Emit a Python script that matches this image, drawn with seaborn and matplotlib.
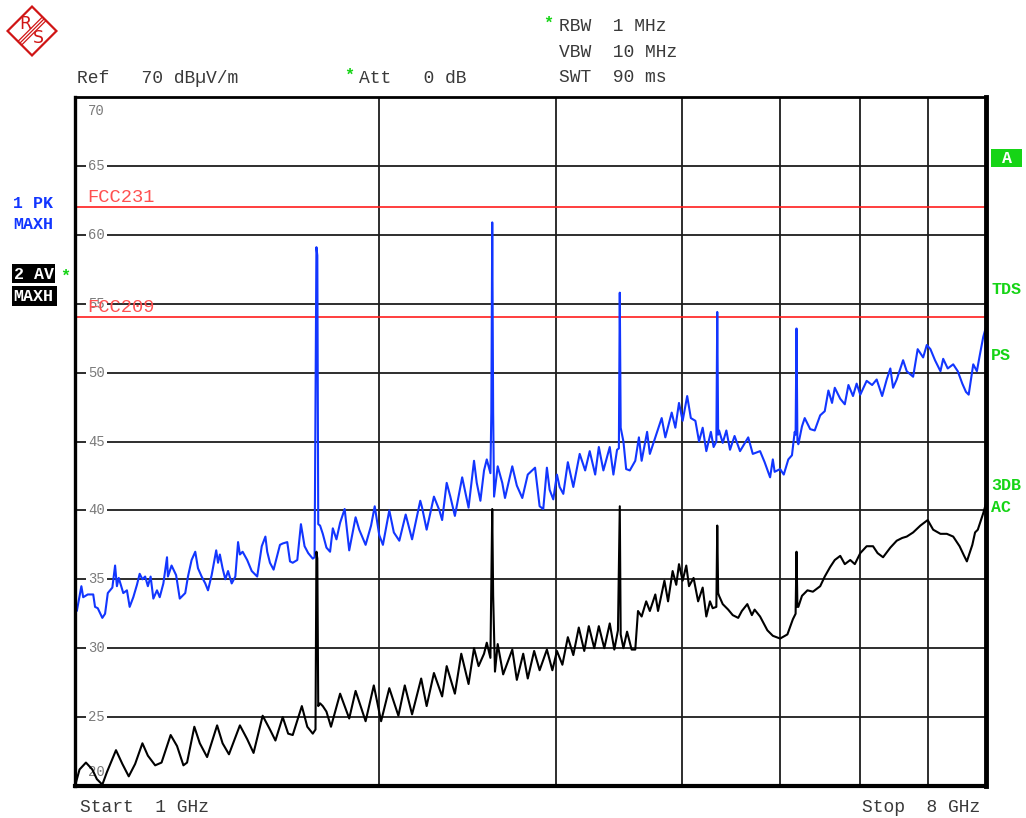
import numpy as np
import pandas as pd
import matplotlib
matplotlib.use("Agg")
import matplotlib.pyplot as plt
import seaborn as sns
from matplotlib.patches import Polygon, Rectangle
from matplotlib.ticker import NullLocator

# Sweep settings
F_START_GHZ = 1.0
F_STOP_GHZ = 8.0
SWEEP_POINTS = 1001
REF_LEVEL = 70
BOTTOM_LEVEL = 20

# Trace 1: peak detector, max hold (sweep point index, level in dBuV/m)
pk_point = [0, 1, 2, 7, 9, 14, 20, 22, 25, 30, 33, 36, 41, 44, 46, 48, 53, 57, 60, 64,
            68, 71, 74, 77, 80, 83, 86, 90, 93, 97, 101, 102, 106, 111, 115, 121, 124, 128,
            132, 135, 139, 143, 146, 150, 155, 157, 159, 162, 165, 168, 172, 176, 179, 181,
            184, 189, 194, 200, 205, 209, 211, 214, 218, 225, 228, 233, 236, 239, 244, 248,
            252, 256, 261, 263, 264, 265, 266, 267, 269, 272, 276, 280, 283, 287, 291, 296,
            301, 308, 312, 319, 325, 329, 334, 338, 345, 350, 356, 363, 370, 379, 381, 386,
            394, 400, 403, 408, 412, 417, 425, 432, 438, 441, 445, 449, 452, 456, 457, 458,
            459, 460, 464, 469, 472, 480, 485, 491, 497, 505, 510, 514, 518, 521, 525, 529,
            532, 536, 541, 547, 554, 560, 565, 571, 575, 580, 587, 591, 595, 597, 598, 599,
            602, 605, 609, 615, 619, 622, 628, 631, 637, 644, 648, 655, 659, 663, 667, 672,
            676, 681, 685, 689, 693, 698, 701, 704, 705, 706, 707, 711, 715, 719, 724, 730,
            739, 744, 752, 757, 763, 766, 768, 774, 778, 783, 787, 790, 791, 792, 793, 794,
            798, 801, 807, 812, 818, 823, 827, 831, 834, 840, 845, 849, 854, 858, 862, 869,
            875, 880, 886, 891, 895, 898, 902, 909, 913, 920, 925, 931, 935, 939, 944, 950,
            953, 958, 964, 969, 974, 978, 981, 986, 990, 993, 997, 1000]
pk_level = [33.4, 33.1, 32.7, 34.5, 33.7, 33.9, 33.9, 33.0, 32.9, 32.2, 32.5, 34.0, 34.4, 36.0,
            34.5, 35.1, 34.0, 34.2, 33.0, 33.7, 34.6, 35.4, 35.0, 35.2, 34.5, 35.2, 33.6, 34.2,
            33.7, 34.7, 36.6, 35.2, 36.0, 35.3, 33.6, 34.0, 35.2, 36.4, 37.0, 35.8, 35.2, 34.7,
            34.2, 35.3, 37.1, 36.2, 36.8, 35.8, 35.0, 35.6, 34.7, 35.2, 37.7, 36.8, 37.0, 36.4,
            35.6, 35.2, 37.4, 38.1, 37.0, 36.2, 35.7, 37.5, 37.6, 37.7, 36.3, 36.2, 36.4, 39.0,
            37.4, 36.9, 36.5, 36.6, 48.0, 59.1, 58.5, 39.0, 38.9, 38.3, 37.3, 37.0, 38.7, 37.9,
            39.1, 40.1, 37.1, 39.5, 38.6, 37.5, 38.9, 40.3, 38.2, 37.5, 40.0, 38.4, 37.8, 39.7,
            37.9, 40.7, 40.2, 38.6, 41.0, 40.0, 39.3, 42.0, 41.0, 39.6, 42.4, 40.2, 43.6, 42.0,
            40.7, 42.9, 43.7, 42.7, 47.1, 60.9, 47.1, 41.0, 43.2, 42.0, 40.9, 43.2, 41.8, 40.9,
            42.6, 43.1, 40.3, 40.1, 43.1, 41.5, 40.8, 42.6, 41.7, 41.2, 43.5, 41.7, 44.1, 42.9,
            44.3, 42.6, 44.6, 42.9, 44.6, 42.6, 44.4, 44.5, 55.8, 46.0, 45.0, 43.0, 42.9, 43.6,
            45.3, 43.6, 45.7, 44.1, 45.3, 46.7, 45.3, 47.1, 46.0, 47.8, 46.5, 48.3, 46.7, 46.5,
            45.0, 46.0, 44.3, 45.7, 44.6, 45.0, 54.4, 45.5, 45.8, 44.9, 45.8, 44.4, 45.4, 44.3,
            45.3, 44.1, 44.3, 43.5, 42.4, 43.7, 42.8, 43.0, 42.6, 43.7, 44.0, 45.7, 45.5, 53.2,
            45.0, 44.8, 46.1, 46.7, 45.9, 45.8, 46.9, 47.2, 48.7, 47.8, 48.9, 48.1, 47.7, 49.1,
            48.3, 49.2, 48.4, 49.4, 49.1, 49.5, 48.3, 49.5, 50.3, 48.9, 49.5, 50.9, 50.1, 49.7,
            51.7, 51.1, 52.0, 51.7, 50.9, 50.1, 51.0, 50.3, 50.6, 50.1, 49.2, 48.6, 48.4, 50.6,
            50.1, 51.2, 52.6, 53.3]

# Trace 2: average detector, max hold
av_point = [0, 5, 12, 19, 24, 30, 35, 45, 52, 59, 66, 74, 80, 88, 95, 105, 112, 119, 123, 131,
            137, 145, 156, 162, 169, 181, 189, 196, 206, 214, 220, 228, 234, 239, 249, 255, 261,
            264, 265, 266, 267, 269, 272, 276, 281, 291, 301, 308, 319, 328, 336, 345, 355, 362,
            370, 380, 386, 394, 403, 408, 417, 424, 432, 438, 443, 449, 452, 456, 458, 459, 461,
            464, 470, 480, 485, 492, 497, 504, 510, 518, 524, 529, 535, 541, 547, 553, 559, 564,
            570, 575, 581, 587, 592, 596, 598, 599, 602, 606, 611, 615, 618, 622, 627, 631, 637,
            640, 647, 651, 656, 660, 663, 667, 671, 674, 679, 684, 689, 693, 697, 700, 704, 705,
            706, 707, 711, 717, 722, 728, 732, 738, 743, 746, 752, 760, 766, 774, 782, 788, 791,
            792, 793, 794, 798, 804, 810, 818, 823, 829, 834, 840, 845, 851, 856, 862, 869, 876,
            881, 887, 895, 902, 908, 913, 920, 928, 936, 942, 950, 957, 964, 971, 976, 979, 985,
            988, 991, 997, 1000]
av_level = [20.0, 21.2, 21.7, 21.2, 20.5, 20.1, 21.0, 22.6, 21.6, 20.7, 21.6, 23.1, 22.2, 21.5,
            21.7, 23.7, 22.9, 21.5, 21.7, 24.3, 23.1, 22.1, 24.4, 23.1, 22.3, 24.4, 23.4, 22.4,
            25.1, 24.1, 23.3, 25.0, 23.8, 23.7, 25.8, 24.3, 23.8, 24.1, 37.0, 36.5, 25.8, 26.0,
            25.8, 25.4, 24.3, 26.7, 24.9, 26.9, 24.7, 27.3, 24.7, 27.1, 25.1, 27.3, 25.2, 27.8,
            25.8, 28.2, 26.5, 28.7, 26.7, 29.6, 27.4, 30.0, 28.7, 29.6, 30.4, 29.3, 40.1, 33.8,
            28.3, 30.3, 28.1, 29.9, 27.7, 29.6, 27.8, 29.8, 28.4, 29.9, 28.4, 29.8, 28.8, 30.8,
            29.5, 31.5, 29.8, 31.6, 30.0, 31.6, 30.0, 31.8, 29.9, 31.3, 40.3, 31.0, 30.0, 31.2,
            29.9, 29.9, 32.7, 32.3, 33.4, 32.7, 33.9, 32.7, 34.9, 33.4, 35.6, 34.6, 36.1, 34.9,
            36.0, 34.5, 35.1, 33.4, 34.4, 32.3, 33.4, 32.9, 33.0, 38.9, 34.0, 33.8, 33.2, 32.8,
            32.4, 32.2, 32.7, 33.2, 32.4, 32.8, 32.3, 31.3, 30.9, 30.7, 31.0, 32.1, 32.5, 37.0,
            33.0, 33.0, 33.8, 34.2, 34.1, 34.5, 35.2, 35.9, 36.4, 36.7, 36.1, 36.4, 36.1, 36.9,
            37.4, 37.4, 36.9, 36.6, 37.3, 37.8, 38.0, 38.1, 38.4, 38.9, 39.3, 38.6, 38.3, 38.3,
            38.1, 37.4, 36.7, 36.3, 37.5, 38.4, 38.6, 39.8, 40.5]

# Display lines
limit_names = ["FCC231", "FCC209"]
limit_levels = [62.0, 54.0]

level_ticks = [70, 65, 60, 55, 50, 45, 40, 35, 30, 25, 20]
grid_freqs_ghz = [2, 3, 4, 5, 6, 7]


def sweep_freq(points):
    """Frequency (GHz) of each point of a logarithmic sweep."""
    pts = np.asarray(points, dtype=float)
    return F_START_GHZ * (F_STOP_GHZ / F_START_GHZ) ** (pts / (SWEEP_POINTS - 1))


pk_df = pd.DataFrame({"freq": sweep_freq(pk_point), "level": pk_level})
av_df = pd.DataFrame({"freq": sweep_freq(av_point), "level": av_level})

MONO = "Liberation Mono"
TXT = "#3a3a3a"
GREEN = "#16d416"
BLUE = "#1236ff"

W, H = 1026, 818
fig = plt.figure(figsize=(W / 100, H / 100), dpi=100)
fig.patch.set_facecolor("white")


def fx(px):
    return px / W


def fy(py):
    return 1 - py / H


ax = fig.add_axes([fx(75), fy(786), (986 - 75) / W, (786 - 97) / H])
ax.set_facecolor("white")
ax.set_xscale("log")
ax.set_xlim(F_START_GHZ, F_STOP_GHZ)
ax.set_ylim(BOTTOM_LEVEL, REF_LEVEL)
ax.xaxis.set_major_locator(NullLocator())
ax.xaxis.set_minor_locator(NullLocator())
ax.yaxis.set_major_locator(NullLocator())
ax.yaxis.set_minor_locator(NullLocator())
ax.tick_params(which="both", length=0, labelbottom=False, labelleft=False)

# graticule
for lv in level_ticks[1:-1]:
    ax.axhline(lv, color="#1c1c1c", lw=1.3, zorder=1)
for f in grid_freqs_ghz:
    ax.axvline(f, color="#1c1c1c", lw=1.3, zorder=1)

# level labels inside the grid
for lv in level_ticks:
    dy = -14 if lv == REF_LEVEL else (14 if lv == BOTTOM_LEVEL else 0)
    ax.annotate(str(lv), xy=(0, lv), xycoords=ax.get_yaxis_transform(),
                xytext=(13, dy), textcoords="offset pixels", ha="left", va="center",
                fontsize=10, color="#7a7a7a", family=MONO, zorder=2,
                bbox=dict(boxstyle="square,pad=0.15", fc="white", ec="none"))

# limit lines
for name, lv in zip(limit_names, limit_levels):
    ax.axhline(lv, color="#ff1e1e", lw=1.2, zorder=2.5)
    ax.annotate(name, xy=(0, lv), xycoords=ax.get_yaxis_transform(),
                xytext=(12, 5), textcoords="offset pixels", ha="left", va="baseline",
                fontsize=13.5, color="#ff5050", family=MONO, zorder=2.6)

# traces
sns.lineplot(data=pk_df, x="freq", y="level", ax=ax, color=BLUE, lw=1.5,
             estimator=None, sort=False, legend=False, zorder=3)
sns.lineplot(data=av_df, x="freq", y="level", ax=ax, color="black", lw=1.5,
             estimator=None, sort=False, legend=False, zorder=4)
ax.set_xlabel("")
ax.set_ylabel("")

for side, lw in (("left", 2.4), ("top", 2.0), ("bottom", 3.0), ("right", 3.5)):
    ax.spines[side].set_color("black")
    ax.spines[side].set_linewidth(lw)
    ax.spines[side].set_zorder(6)

# header
fig.text(fx(77), fy(83), "Ref   70 dBµV/m", family=MONO, fontsize=13, color=TXT, va="baseline")
fig.text(fx(344), fy(80), "*", family=MONO, fontsize=12, color=GREEN, va="baseline", weight="bold")
fig.text(fx(359), fy(83), "Att   0 dB", family=MONO, fontsize=13, color=TXT, va="baseline")
fig.text(fx(543), fy(28), "*", family=MONO, fontsize=12, color=GREEN, va="baseline", weight="bold")
fig.text(fx(559), fy(31), "RBW  1 MHz", family=MONO, fontsize=13, color=TXT, va="baseline")
fig.text(fx(559), fy(57), "VBW  10 MHz", family=MONO, fontsize=13, color=TXT, va="baseline")
fig.text(fx(559), fy(82), "SWT  90 ms", family=MONO, fontsize=13, color=TXT, va="baseline")
fig.text(fx(80), fy(812), "Start  1 GHz", family=MONO, fontsize=13, color=TXT, va="baseline")
fig.text(fx(980), fy(812), "Stop  8 GHz", family=MONO, fontsize=13, color=TXT, va="baseline",
         ha="right")

# trace info on the left
fig.text(fx(13), fy(208), "1 PK", family=MONO, fontsize=12, color=BLUE, weight="bold", va="baseline")
fig.text(fx(13), fy(229), "MAXH", family=MONO, fontsize=12, color=BLUE, weight="bold", va="baseline")
fig.patches.append(Rectangle((fx(12), fy(283)), (55 - 12) / W, 19 / H, transform=fig.transFigure,
                             facecolor="black", edgecolor="none"))
fig.patches.append(Rectangle((fx(12), fy(306)), (57 - 12) / W, 20 / H, transform=fig.transFigure,
                             facecolor="black", edgecolor="none"))
fig.text(fx(14), fy(279), "2 AV", family=MONO, fontsize=12, color="white", weight="bold", va="baseline")
fig.text(fx(13), fy(301), "MAXH", family=MONO, fontsize=12, color="white", weight="bold", va="baseline")
fig.text(fx(60), fy(281), "*", family=MONO, fontsize=12, color=GREEN, weight="bold", va="baseline")

# status flags on the right
fig.patches.append(Rectangle((fx(991), fy(167)), 31 / W, 18 / H, transform=fig.transFigure,
                             facecolor=GREEN, edgecolor="none"))
fig.text(fx(1006.5), fy(163), "A", family=MONO, fontsize=12, color="white", weight="bold",
         va="baseline", ha="center")
for label, base in (("TDS", 294), ("PS", 360), ("3DB", 490), ("AC", 512)):
    fig.text(fx(991), fy(base), label, family=MONO, fontsize=12, color=GREEN, weight="bold",
             va="baseline")

# manufacturer logo
lax = fig.add_axes([fx(6), fy(57), 52 / W, 52 / H])
lax.set_xlim(0, 1)
lax.set_ylim(0, 1)
lax.axis("off")
red = "#d01515"
lax.add_patch(Polygon([(0.5, 0.97), (0.97, 0.5), (0.5, 0.03), (0.03, 0.5)], closed=True,
                      fill=False, edgecolor=red, lw=1.6))
for off in (-0.035, 0.0, 0.035):
    lax.plot([0.735 + off, 0.265 + off], [0.735 - off, 0.265 - off], color=red, lw=0.9)
lax.text(0.37, 0.63, "R", color=red, fontsize=12.5, ha="center", va="center", family="DejaVu Sans")
lax.text(0.63, 0.37, "S", color=red, fontsize=12.5, ha="center", va="center", family="DejaVu Sans")

fig.savefig("out.png", dpi=100)
